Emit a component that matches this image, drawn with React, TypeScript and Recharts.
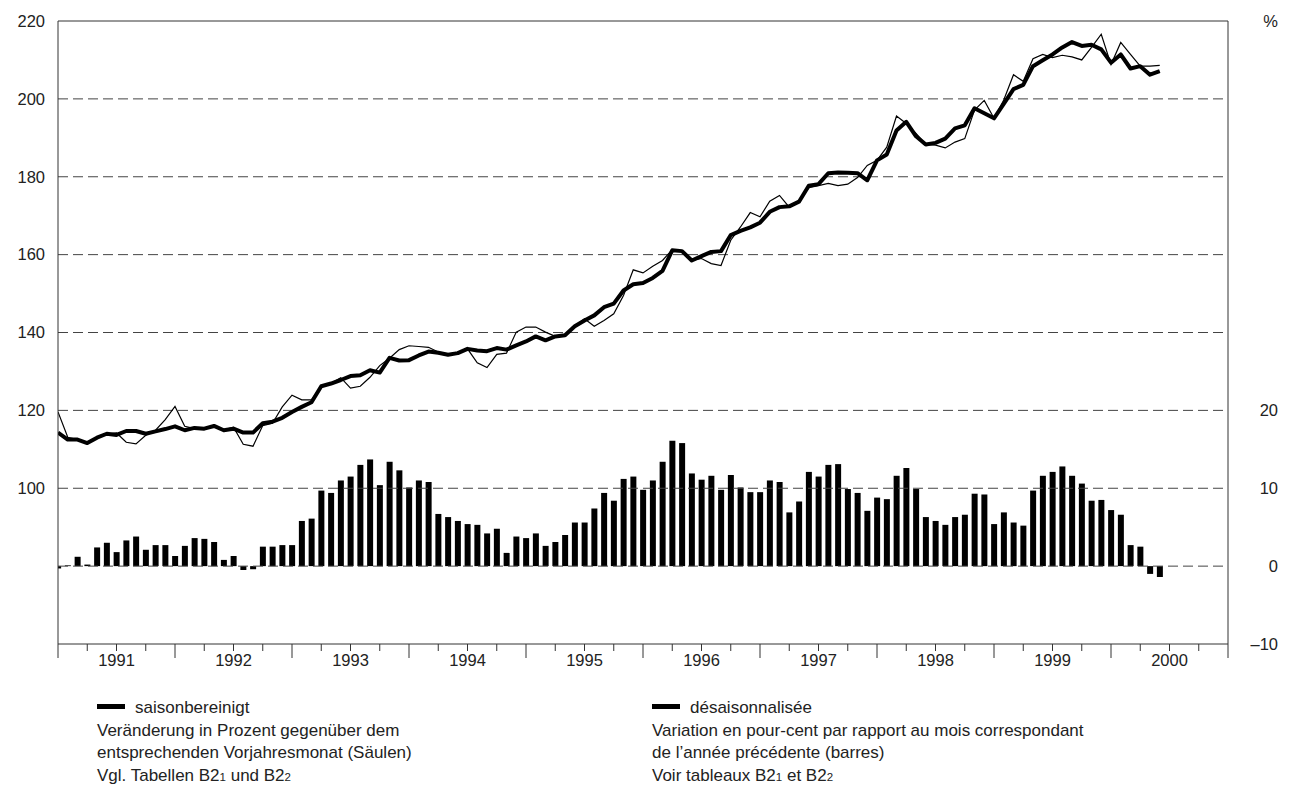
import { ComposedChart, Bar, Line, XAxis, YAxis, ReferenceLine } from "recharts";

// Jahreslabels unter der x-Achse
const years = ["1991", "1992", "1993", "1994", "1995", "1996", "1997", "1998", "1999", "2000"];

// saisonbereinigt (dicke Linie), linke Achse
const saisonbereinigt = [
  114.3, 112.5, 112.5, 111.6, 113.0, 114.0, 113.7, 114.7, 114.7, 114.0,
  114.6, 115.2, 115.9, 114.9, 115.5, 115.3, 116.0, 114.9, 115.3, 114.3,
  114.3, 116.7, 117.1, 118.1, 119.6, 120.9, 122.1, 126.2, 126.9, 127.8,
  128.8, 129.0, 130.3, 129.7, 133.5, 132.8, 132.9, 134.1, 135.1, 134.8,
  134.3, 134.7, 135.8, 135.4, 135.2, 136.0, 135.6, 136.7, 137.7, 139.0,
  138.0, 139.0, 139.3, 141.6, 143.1, 144.4, 146.5, 147.4, 150.8, 152.4,
  152.7, 154.0, 155.8, 161.1, 160.9, 158.5, 159.6, 160.7, 160.9, 165.0,
  166.1, 167.0, 168.2, 171.0, 172.2, 172.4, 173.6, 177.7, 178.1, 180.9,
  181.1, 181.0, 180.9, 179.1, 184.2, 185.7, 191.9, 194.1, 190.4, 188.3,
  188.7, 189.8, 192.4, 193.2, 197.6, 196.3, 195.0, 198.7, 202.5, 203.6,
  208.4, 209.9, 211.4, 213.2, 214.6, 213.6, 213.9, 212.7, 209.3, 211.4,
  207.8, 208.4, 206.2, 207.1,
];

// Originalwerte (dünne Linie)
const original = [
  119.6, 113.1, 112.5, 111.6, 113.0, 114.0, 114.2, 111.8, 111.4, 113.6,
  114.9, 117.6, 121.0, 115.9, 115.3, 115.3, 115.9, 115.0, 115.7, 111.3,
  110.8, 116.1, 116.7, 120.9, 123.9, 122.7, 122.7, 126.2, 126.9, 128.4,
  125.7, 126.2, 128.5, 131.5, 133.4, 135.6, 136.6, 136.4, 136.2, 135.0,
  134.3, 134.7, 135.8, 132.2, 131.0, 134.4, 134.7, 140.1, 141.4, 141.4,
  140.1, 139.0, 139.3, 141.6, 143.5, 141.6, 143.1, 144.8, 149.5, 156.1,
  155.3, 157.0, 158.5, 161.3, 160.9, 158.5, 159.0, 157.7, 157.2, 163.7,
  167.1, 170.8, 169.7, 173.7, 175.2, 172.2, 173.8, 177.2, 177.7, 178.3,
  177.7, 178.1, 179.8, 182.9, 184.2, 187.6, 195.6, 193.7, 191.1, 188.3,
  188.1, 187.4, 188.9, 189.8, 197.1, 199.6, 195.0, 199.7, 206.2, 204.5,
  210.3, 211.4, 210.6, 211.2, 210.8, 210.0, 213.2, 216.6, 208.8, 214.5,
  211.4, 208.4, 208.4, 208.6,
];

// Veränderung gegenüber Vorjahresmonat in % (Säulen), rechte Achse
const veraenderung = [
  -0.3, 0.1, 1.2, 0.2, 2.4, 3.0, 1.8, 3.3, 3.8, 2.1,
  2.7, 2.7, 1.3, 2.6, 3.6, 3.5, 3.1, 0.8, 1.3, -0.5,
  -0.4, 2.5, 2.5, 2.7, 2.7, 5.8, 6.1, 9.7, 9.4, 11.0,
  11.5, 13.0, 13.7, 10.4, 13.4, 12.3, 10.1, 11.0, 10.8, 6.7,
  6.3, 5.8, 5.4, 5.3, 4.2, 4.8, 1.7, 3.8, 3.6, 4.2,
  2.6, 3.1, 4.0, 5.6, 5.6, 7.4, 9.4, 8.4, 11.2, 11.5,
  9.8, 11.0, 13.4, 16.1, 15.8, 11.9, 11.1, 11.6, 9.8, 11.7,
  10.1, 9.5, 9.5, 11.0, 10.8, 6.9, 8.3, 12.1, 11.5, 13.0,
  13.1, 9.9, 9.4, 7.1, 8.8, 8.6, 11.6, 12.6, 9.9, 6.3,
  5.8, 5.3, 6.3, 6.6, 9.3, 9.2, 5.4, 6.9, 5.6, 5.2,
  9.7, 11.6, 12.1, 12.8, 11.6, 10.6, 8.4, 8.5, 7.2, 6.6,
  2.7, 2.5, -1.0, -1.4,
];

const leftTicks = [100, 120, 140, 160, 180, 200, 220];
const rightTicks = [-10, 0, 10, 20, 70];
const gridLevels = [80, 100, 120, 140, 160, 180, 200];

const data = saisonbereinigt.map((v, i) => ({
  m: i,
  sa: v,
  orig: original[i],
  pct: veraenderung[i],
}));

// Quartalsstriche: 0, 3, 6 ... 120 Monate
const quarterTicks = Array.from({ length: 41 }, (_, i) => i * 3);

const FONT = "'Liberation Sans', Arial, Helvetica, sans-serif";
const INK = "#222";

function MonthTick(props: any) {
  const { x, y, payload } = props;
  const v = payload.value as number;
  const yearStart = v % 12 === 0;
  const label = v % 12 === 6 ? years[(v - 6) / 12] : null;
  return (
    <g>
      <line x1={x} x2={x} y1={y} y2={y + (yearStart ? 14 : 7)} stroke="#333" strokeWidth={1} />
      {label && (
        <text x={x} y={y + 22} textAnchor="middle" fontSize={16.5} fill={INK} fontFamily={FONT}>
          {label}
        </text>
      )}
    </g>
  );
}

function RightTick(props: any) {
  const { x, y, payload } = props;
  const v = payload.value as number;
  const txt = v === 70 ? "%" : v < 0 ? "\u2013" + Math.abs(v) : String(v);
  return (
    <text x={x + 50} y={y} dy="0.355em" textAnchor="end" fontSize={16.5} fill={INK} fontFamily={FONT}>
      {txt}
    </text>
  );
}

function LeftTick(props: any) {
  const { x, y, payload } = props;
  return (
    <text x={x} y={y} dy="0.355em" textAnchor="end" fontSize={16.5} fill={INK} fontFamily={FONT}>
      {payload.value}
    </text>
  );
}

const textStyle: React.CSSProperties = {
  position: "absolute",
  fontFamily: FONT,
  fontSize: 17,
  lineHeight: "22.6px",
  color: INK,
  whiteSpace: "nowrap",
};

const swatch: React.CSSProperties = {
  display: "inline-block",
  width: 28,
  height: 5,
  background: "#000",
  verticalAlign: "middle",
  marginRight: 10,
  position: "relative",
  top: -2,
};

const sub: React.CSSProperties = { fontSize: 11.5 };

export default function App() {
  return (
    <div style={{ position: "absolute", left: 0, top: 0, width: 1293, height: 796, background: "#fff" }}>
      <ComposedChart
        width={1293}
        height={680}
        data={data}
        margin={{ top: 21, right: 0, bottom: 0, left: 0 }}
      >
        <XAxis
          dataKey="m"
          type="number"
          domain={[0, 120]}
          ticks={quarterTicks}
          interval={0}
          tickSize={0}
          tickMargin={0}
          tick={<MonthTick />}
          tickLine={false}
          axisLine={{ stroke: "#333" }}
          height={36}
          allowDataOverflow
        />
        <YAxis
          yAxisId="left"
          orientation="left"
          domain={[60, 220]}
          ticks={leftTicks}
          interval={0}
          width={58}
          tickSize={0}
          tickMargin={13}
          tickLine={false}
          tick={<LeftTick />}
          axisLine={{ stroke: "#333" }}
          allowDataOverflow
        />
        <YAxis
          yAxisId="right"
          orientation="right"
          domain={[-10, 70]}
          ticks={rightTicks}
          interval={0}
          width={65}
          tickSize={0}
          tickMargin={0}
          tickLine={false}
          tick={<RightTick />}
          axisLine={{ stroke: "#333" }}
          allowDataOverflow
        />
        {gridLevels.map((g) => (
          <ReferenceLine
            key={g}
            yAxisId="left"
            y={g}
            stroke="#444"
            strokeWidth={1}
            strokeDasharray="10 5"
          />
        ))}
        <ReferenceLine yAxisId="left" y={220} stroke="#333" strokeWidth={1} />
        <Bar yAxisId="right" dataKey="pct" fill="#000" barSize={6} isAnimationActive={false} />
        <Line
          yAxisId="left"
          type="linear"
          dataKey="orig"
          stroke="#000"
          strokeWidth={1.2}
          dot={false}
          activeDot={false}
          isAnimationActive={false}
        />
        <Line
          yAxisId="left"
          type="linear"
          dataKey="sa"
          stroke="#000"
          strokeWidth={4}
          strokeLinejoin="round"
          dot={false}
          activeDot={false}
          isAnimationActive={false}
        />
      </ComposedChart>

      <div style={{ ...textStyle, left: 97, top: 697 }}>
        <div>
          <span style={swatch} />
          saisonbereinigt
        </div>
        <div>Veränderung in Prozent gegenüber dem</div>
        <div>entsprechenden Vorjahresmonat (Säulen)</div>
        <div>
          Vgl. Tabellen B2<span style={sub}>1</span> und B2<span style={sub}>2</span>
        </div>
      </div>

      <div style={{ ...textStyle, left: 652, top: 697 }}>
        <div>
          <span style={swatch} />
          désaisonnalisée
        </div>
        <div>Variation en pour-cent par rapport au mois correspondant</div>
        <div>de l’année précédente (barres)</div>
        <div>
          Voir tableaux B2<span style={sub}>1</span> et B2<span style={sub}>2</span>
        </div>
      </div>
    </div>
  );
}
